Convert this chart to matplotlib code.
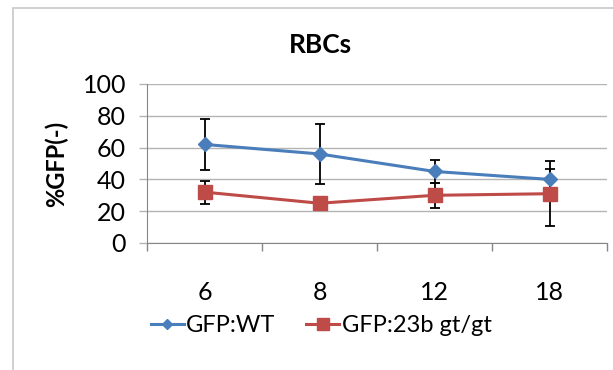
import matplotlib.pyplot as plt
import numpy as np
from matplotlib.patches import Rectangle

plt.rcParams['font.family'] = ['Lato', 'DejaVu Sans']

# data
categories = ['6', '8', '12', '18']
wt = [62, 56, 45, 40]
wt_err = [16, 19, 7.5, 6.5]
gt = [32, 25, 30, 31]
gt_err = [7.3, 3.5, 8, 20.5]
yticks = [0, 20, 40, 60, 80, 100]

blue = '#4a7ebb'
red = '#be4b48'
grid_c = '#b4b4b4'
axis_c = '#868686'

fig = plt.figure(figsize=(6.13, 3.70), dpi=100)
ax = fig.add_axes([147 / 613, 1 - 243 / 370, 460 / 613, 159 / 370])

# chart frame (only top/left edges visible in the reference)
fig.patches.append(Rectangle((13 / 613, -0.1), 1.0, 1 - 8 / 370 + 0.1,
                             transform=fig.transFigure, fill=False,
                             edgecolor='#c8c8c8', lw=1.2))

x = np.arange(len(categories))
ax.errorbar(x, wt, yerr=wt_err, fmt='none', ecolor='black', elinewidth=1.3,
            capsize=3.5, capthick=1.3, zorder=3)
ax.errorbar(x, gt, yerr=gt_err, fmt='none', ecolor='black', elinewidth=1.3,
            capsize=3.5, capthick=1.3, zorder=3)
ax.plot(x, wt, color=blue, lw=2.2, marker='D', ms=7, mec=blue, zorder=4,
        label='GFP:WT')
ax.plot(x, gt, color=red, lw=2.2, marker='s', ms=10, mec=red, zorder=4,
        label='GFP:23b gt/gt')

ax.set_xlim(-0.5, len(categories) - 0.5)
ax.set_ylim(0, 100)
ax.set_yticks(yticks)
ax.set_xticks(x)
ax.set_xticklabels(categories)
ax.set_xticks(np.arange(len(categories) + 1) - 0.5, minor=True)
ax.tick_params(axis='x', which='major', length=0, pad=27, labelsize=18)
ax.tick_params(axis='x', which='minor', length=6, color=axis_c, width=1)
ax.tick_params(axis='y', length=6, color=grid_c, width=1, pad=9, labelsize=18)

ax.grid(axis='y', color=grid_c, lw=1)
ax.set_axisbelow(True)
for s in ['top', 'right']:
    ax.spines[s].set_visible(False)
ax.spines['left'].set_color(axis_c)
ax.spines['bottom'].set_color(axis_c)

ax.set_ylabel('%GFP(-)', fontsize=17, fontweight='bold')
ax.yaxis.set_label_coords(-0.172, 0.5)

fig.text(320 / 613, 1 - 45 / 370, 'RBCs', ha='center', va='center',
         fontsize=19, fontweight='bold')

fig.legend(loc='center', bbox_to_anchor=(321 / 613, 1 - 326 / 370), ncol=2,
           frameon=False, fontsize=17, handlelength=1.4, handletextpad=0.1,
           columnspacing=1.3, markerscale=0.8)

fig.savefig('out.png', dpi=100)
